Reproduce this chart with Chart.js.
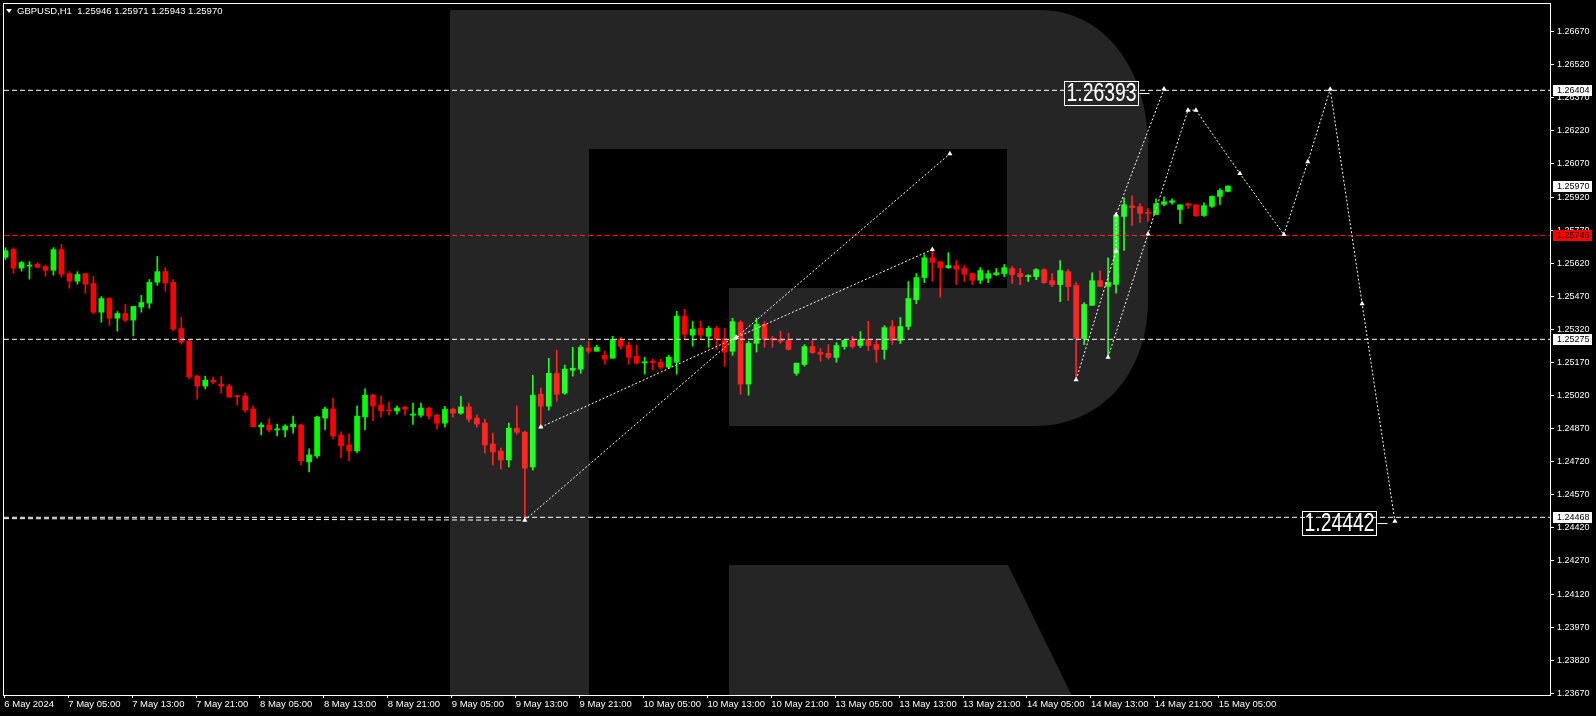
<!DOCTYPE html>
<html>
<head>
<meta charset="utf-8">
<title>GBPUSD,H1</title>
<script src="https://cdn.jsdelivr.net/npm/chart.js@4.4.1/dist/chart.umd.min.js"></script>
<style>
  html, body { margin: 0; padding: 0; background: #000; }
  canvas { display: block; }
</style>
</head>
<body>
<canvas id="chart" width="1596" height="716"></canvas>
<script>
'use strict';

// hourly bars, index 0 = 6 May 2024 21:00
var opens = [
	1.25647, 1.25682, 1.25598, 1.25607, 1.25616, 1.25605, 1.25588, 1.25682, 1.25573, 1.25539,
	1.25573, 1.25528, 1.25398, 1.25460, 1.25371, 1.25392, 1.25362, 1.25421, 1.25439, 1.25534,
	1.25582, 1.25533, 1.25324, 1.25267, 1.25108, 1.25063, 1.25090, 1.25072, 1.25063, 1.25019,
	1.25018, 1.24959, 1.24878, 1.24887, 1.24864, 1.24864, 1.24878, 1.24887, 1.24719, 1.24746,
	1.24918, 1.24959, 1.24841, 1.24796, 1.24769, 1.24923, 1.25022, 1.24977, 1.24955, 1.24950,
	1.24968, 1.24931, 1.24931, 1.24963, 1.24931, 1.24895, 1.24958, 1.24940, 1.24968, 1.24918,
	1.24895, 1.24800, 1.24768, 1.24728, 1.24872, 1.24854, 1.24696, 1.25026, 1.24972, 1.25121,
	1.25031, 1.25135, 1.25140, 1.25235, 1.25221, 1.25203, 1.25189, 1.25275, 1.25248, 1.25198,
	1.25168, 1.25176, 1.25171, 1.25149, 1.25171, 1.25380, 1.25294, 1.25325, 1.25289, 1.25325,
	1.25278, 1.25221, 1.25352, 1.25072, 1.25257, 1.25343, 1.25280, 1.25275, 1.25271, 1.25121,
	1.25161, 1.25242, 1.25215, 1.25211, 1.25193, 1.25242, 1.25270, 1.25247, 1.25274, 1.25251,
	1.25229, 1.25333, 1.25270, 1.25333, 1.25455, 1.25555, 1.25645, 1.25627, 1.25600, 1.25609,
	1.25596, 1.25573, 1.25543, 1.25552, 1.25568, 1.25573, 1.25596, 1.25573, 1.25559, 1.25559,
	1.25591, 1.25541, 1.25523, 1.25582, 1.25519, 1.25279, 1.25429, 1.25541, 1.25515, 1.25524,
	1.25832, 1.25880, 1.25876, 1.25850, 1.25841, 1.25887, 1.25896, 1.25864, 1.25890, 1.25885,
	1.25837, 1.25878, 1.25923, 1.25946
];
var highs = [
	1.25690, 1.25690, 1.25628, 1.25628, 1.25622, 1.25610, 1.25691, 1.25705, 1.25582, 1.25582,
	1.25573, 1.25560, 1.25469, 1.25465, 1.25401, 1.25433, 1.25424, 1.25474, 1.25546, 1.25650,
	1.25600, 1.25546, 1.25374, 1.25272, 1.25113, 1.25108, 1.25104, 1.25108, 1.25072, 1.25022,
	1.25031, 1.24973, 1.24896, 1.24914, 1.24891, 1.24887, 1.24927, 1.24891, 1.24778, 1.24927,
	1.24968, 1.25009, 1.24855, 1.24846, 1.24973, 1.25050, 1.25027, 1.25018, 1.24991, 1.24973,
	1.24971, 1.24986, 1.24986, 1.24968, 1.24936, 1.24971, 1.24963, 1.25017, 1.24986, 1.24931,
	1.24913, 1.24850, 1.24782, 1.24895, 1.24972, 1.24859, 1.25112, 1.25054, 1.25189, 1.25226,
	1.25158, 1.25239, 1.25248, 1.25266, 1.25248, 1.25221, 1.25289, 1.25284, 1.25262, 1.25248,
	1.25194, 1.25185, 1.25185, 1.25203, 1.25402, 1.25411, 1.25357, 1.25357, 1.25334, 1.25334,
	1.25325, 1.25371, 1.25360, 1.25266, 1.25371, 1.25357, 1.25289, 1.25312, 1.25303, 1.25167,
	1.25251, 1.25270, 1.25233, 1.25251, 1.25260, 1.25274, 1.25288, 1.25310, 1.25356, 1.25274,
	1.25337, 1.25360, 1.25374, 1.25537, 1.25573, 1.25659, 1.25688, 1.25627, 1.25668, 1.25632,
	1.25609, 1.25573, 1.25600, 1.25587, 1.25596, 1.25614, 1.25605, 1.25596, 1.25568, 1.25596,
	1.25596, 1.25573, 1.25632, 1.25591, 1.25532, 1.25442, 1.25577, 1.25586, 1.25645, 1.25844,
	1.25917, 1.25926, 1.25890, 1.25868, 1.25912, 1.25921, 1.25912, 1.25885, 1.25894, 1.25885,
	1.25894, 1.25926, 1.25958, 1.25971
];
var lows = [
	1.25637, 1.25575, 1.25584, 1.25548, 1.25598, 1.25561, 1.25566, 1.25557, 1.25507, 1.25525,
	1.25484, 1.25389, 1.25353, 1.25339, 1.25312, 1.25353, 1.25290, 1.25398, 1.25416, 1.25520,
	1.25493, 1.25312, 1.25253, 1.25095, 1.25004, 1.25050, 1.25072, 1.25031, 1.25013, 1.24977,
	1.24945, 1.24878, 1.24841, 1.24855, 1.24837, 1.24832, 1.24850, 1.24706, 1.24674, 1.24737,
	1.24864, 1.24823, 1.24737, 1.24724, 1.24760, 1.24864, 1.24905, 1.24923, 1.24932, 1.24936,
	1.24931, 1.24889, 1.24922, 1.24913, 1.24868, 1.24877, 1.24922, 1.24936, 1.24900, 1.24877,
	1.24759, 1.24705, 1.24687, 1.24696, 1.24845, 1.24455, 1.24682, 1.24877, 1.24954, 1.24995,
	1.25026, 1.25108, 1.25121, 1.25212, 1.25221, 1.25162, 1.25189, 1.25230, 1.25162, 1.25162,
	1.25117, 1.25135, 1.25140, 1.25144, 1.25117, 1.25275, 1.25244, 1.25275, 1.25239, 1.25230,
	1.25153, 1.25203, 1.25026, 1.25022, 1.25217, 1.25239, 1.25239, 1.25257, 1.25226, 1.25112,
	1.25153, 1.25211, 1.25175, 1.25185, 1.25171, 1.25230, 1.25235, 1.25238, 1.25224, 1.25171,
	1.25185, 1.25251, 1.25256, 1.25319, 1.25437, 1.25532, 1.25538, 1.25466, 1.25596, 1.25523,
	1.25537, 1.25523, 1.25528, 1.25532, 1.25564, 1.25559, 1.25528, 1.25523, 1.25537, 1.25546,
	1.25528, 1.25514, 1.25446, 1.25451, 1.25088, 1.25251, 1.25429, 1.25515, 1.25198, 1.25484,
	1.25678, 1.25791, 1.25805, 1.25810, 1.25841, 1.25880, 1.25887, 1.25801, 1.25868, 1.25832,
	1.25832, 1.25873, 1.25887, 1.25943
];
var closes = [
	1.25677, 1.25598, 1.25623, 1.25611, 1.25602, 1.25588, 1.25682, 1.25570, 1.25539, 1.25569,
	1.25525, 1.25398, 1.25460, 1.25371, 1.25392, 1.25362, 1.25424, 1.25442, 1.25533, 1.25582,
	1.25530, 1.25321, 1.25262, 1.25104, 1.25063, 1.25090, 1.25081, 1.25063, 1.25013, 1.25015,
	1.24954, 1.24878, 1.24887, 1.24864, 1.24869, 1.24882, 1.24891, 1.24724, 1.24751, 1.24923,
	1.24959, 1.24837, 1.24792, 1.24769, 1.24927, 1.25022, 1.24973, 1.24950, 1.24950, 1.24964,
	1.24958, 1.24936, 1.24963, 1.24927, 1.24895, 1.24958, 1.24940, 1.24968, 1.24913, 1.24891,
	1.24796, 1.24764, 1.24728, 1.24872, 1.24854, 1.24691, 1.25022, 1.24972, 1.25121, 1.25026,
	1.25140, 1.25144, 1.25239, 1.25221, 1.25239, 1.25185, 1.25275, 1.25244, 1.25194, 1.25167,
	1.25173, 1.25170, 1.25149, 1.25194, 1.25380, 1.25298, 1.25321, 1.25294, 1.25325, 1.25275,
	1.25217, 1.25355, 1.25072, 1.25257, 1.25343, 1.25275, 1.25272, 1.25266, 1.25230, 1.25167,
	1.25242, 1.25215, 1.25208, 1.25193, 1.25247, 1.25270, 1.25242, 1.25274, 1.25247, 1.25229,
	1.25328, 1.25270, 1.25333, 1.25460, 1.25555, 1.25645, 1.25624, 1.25600, 1.25609, 1.25593,
	1.25570, 1.25543, 1.25587, 1.25573, 1.25577, 1.25600, 1.25568, 1.25559, 1.25564, 1.25591,
	1.25532, 1.25523, 1.25587, 1.25514, 1.25279, 1.25433, 1.25541, 1.25515, 1.25533, 1.25835,
	1.25885, 1.25873, 1.25846, 1.25846, 1.25890, 1.25899, 1.25903, 1.25885, 1.25882, 1.25835,
	1.25881, 1.25923, 1.25950, 1.25970
];

// time axis: one label every 8 bars
var timeTicks = [0, 8, 16, 24, 32, 40, 48, 56, 64, 72, 80, 88, 96, 104, 112, 120, 128, 136, 144, 152];
var timeLabels = [
	'6 May 2024', '7 May 05:00', '7 May 13:00', '7 May 21:00', '8 May 05:00', '8 May 13:00',
	'8 May 21:00', '9 May 05:00', '9 May 13:00', '9 May 21:00', '10 May 05:00', '10 May 13:00',
	'10 May 21:00', '13 May 05:00', '13 May 13:00', '13 May 21:00', '14 May 05:00', '14 May 13:00',
	'14 May 21:00', '15 May 05:00'
];
var priceTicks = [
	1.23670, 1.23820, 1.23970, 1.24120, 1.24270, 1.24420, 1.24570, 1.24720, 1.24870, 1.25020,
	1.25170, 1.25320, 1.25470, 1.25620, 1.25770, 1.25920, 1.26070, 1.26220, 1.26370, 1.26520,
	1.26670
];

// horizontal levels
var levelPrices = [1.26404, 1.25746, 1.25275, 1.24468];
var levelColors = ['#ffffff', '#ff0000', '#ffffff', '#ffffff'];

// almost flat support line running into the 9 May low, [bar index, price]
var supportLine = [[-0.19, 1.24462], [65, 1.24455]];

// forecast paths, [bar index, price]
var forecastUp1 = [[65, 1.24455], [91.44, 1.25283], [118.2, 1.26116]];
var forecastUp2 = [[67, 1.24877], [91.44, 1.25283], [116, 1.25682]];
var forecastBreak = [[134, 1.25092], [139, 1.25675], [139, 1.25840], [145, 1.26410]];
var forecastMain = [
	[138, 1.25194], [143, 1.25753], [148, 1.26314], [149, 1.26314], [154.5, 1.26027],
	[160, 1.25750], [163, 1.26080], [165.8, 1.26409], [169.8, 1.25436], [173.9, 1.24450]
];

// target labels and the bar their box ends on
var targetPrices = [1.26393, 1.24442];
var targetBoxBar = [141.7, 171.55];

var FONT = '"Liberation Sans", Arial, sans-serif',
	BULL = '#00ff00',
	BEAR = '#ff0000',
	X_MIN = -0.1875,
	X_MAX = 193.3125,
	Y_MIN = 1.236623,
	Y_MAX = 1.267954;

Chart.defaults.font.family = FONT;

function candleColor(i) {
	return closes[i] >= opens[i] ? BULL : BEAR;
}

function toPoints(list) {
	return list.map(function (p) { return { x: p[0], y: p[1] }; });
}

function pathDataset(points) {
	return {
		type: 'line',
		data: toPoints(points),
		borderColor: '#ffffff',
		borderWidth: 1,
		borderDash: [2, 2],
		pointStyle: 'triangle',
		pointRadius: 3,
		pointBackgroundColor: '#ffffff',
		pointBorderWidth: 0,
		tension: 0
	};
}

var datasets = [
	pathDataset(forecastUp1),
	pathDataset(forecastUp2),
	pathDataset(forecastBreak),
	pathDataset(forecastMain)
];

levelPrices.forEach(function (p, k) {
	datasets.push({
		type: 'line',
		data: [{ x: X_MIN, y: p }, { x: X_MAX, y: p }],
		borderColor: levelColors[k],
		borderWidth: 1,
		borderDash: [5, 3],
		pointRadius: 0
	});
});

datasets.push({
	type: 'line',
	data: toPoints(supportLine),
	borderColor: '#ffffff',
	borderWidth: 1,
	borderDash: [5, 3],
	pointRadius: 0
});

// bodies then wicks (later datasets are painted first)
datasets.push({
	type: 'bar',
	data: opens.map(function (o, i) { return { x: i, y: [o, closes[i]] }; }),
	backgroundColor: opens.map(function (o, i) { return candleColor(i); }),
	barThickness: 5,
	minBarLength: 1,
	grouped: false,
	borderWidth: 0
});
datasets.push({
	type: 'bar',
	data: highs.map(function (h, i) { return { x: i, y: [lows[i], h] }; }),
	backgroundColor: highs.map(function (h, i) { return candleColor(i); }),
	barThickness: 1,
	minBarLength: 1,
	grouped: false,
	borderWidth: 0
});

// big faint "R" watermark, lightens whatever is under it
var logoPlugin = {
	id: 'logo',
	afterDatasetsDraw: function (chart) {
		var ctx = chart.ctx,
			a = chart.chartArea;
		ctx.save();
		ctx.beginPath();
		ctx.rect(a.left, a.top, a.right - a.left, a.bottom - a.top);
		ctx.clip();
		ctx.fillStyle = 'rgba(255,255,255,0.145)';
		ctx.beginPath();
		ctx.moveTo(450, 10);
		ctx.lineTo(1040, 10);
		ctx.bezierCurveTo(1105, 10, 1148, 70, 1148, 145);
		ctx.lineTo(1148, 300);
		ctx.bezierCurveTo(1148, 375, 1100, 426, 1035, 426);
		ctx.lineTo(729, 426);
		ctx.lineTo(729, 288);
		ctx.lineTo(1007, 288);
		ctx.lineTo(1007, 149);
		ctx.lineTo(589, 149);
		ctx.lineTo(589, 700);
		ctx.lineTo(450, 700);
		ctx.closePath();
		ctx.moveTo(729, 565);
		ctx.lineTo(1008, 565);
		ctx.lineTo(1074, 700);
		ctx.lineTo(729, 700);
		ctx.closePath();
		ctx.fill();
		ctx.restore();
	}
};

var overlayPlugin = {
	id: 'overlay',
	afterDraw: function (chart) {
		var ctx = chart.ctx,
			a = chart.chartArea,
			x = chart.scales.x,
			y = chart.scales.y,
			last = opens.length - 1;

		ctx.save();

		// frame
		ctx.strokeStyle = '#ffffff';
		ctx.lineWidth = 1;
		ctx.strokeRect(a.left - 0.5, a.top - 0.5, a.right - a.left + 1, a.bottom - a.top + 1);

		// target boxes
		targetPrices.forEach(function (p, k) {
			var right = Math.round(x.getPixelForValue(targetBoxBar[k])) + 0.5,
				cy = Math.round(y.getPixelForValue(p)),
				w = 74,
				h = 24,
				txt = p.toFixed(5),
				tw;
			ctx.strokeStyle = '#ffffff';
			ctx.strokeRect(right - w, cy - h / 2 + 0.5, w, h);
			ctx.beginPath();
			ctx.moveTo(right + 1, cy + 0.5);
			ctx.lineTo(right + 11, cy + 0.5);
			ctx.stroke();
			ctx.font = '25px ' + FONT;
			tw = ctx.measureText(txt).width;
			ctx.save();
			ctx.translate(right - w + 2, cy + 1);
			ctx.scale(70 / tw, 1);
			ctx.fillStyle = '#ffffff';
			ctx.textBaseline = 'middle';
			ctx.textAlign = 'left';
			ctx.fillText(txt, 0, 0);
			ctx.restore();
		});

		// price tags on the axis
		var tags = [
			[levelPrices[0], '#ffffff'],
			[closes[last], '#ffffff'],
			[levelPrices[1], '#ff0000'],
			[levelPrices[2], '#ffffff'],
			[levelPrices[3], '#ffffff']
		];
		ctx.font = '9px ' + FONT;
		ctx.textBaseline = 'middle';
		ctx.textAlign = 'left';
		tags.forEach(function (t) {
			var cy = Math.round(y.getPixelForValue(t[0]));
			ctx.fillStyle = t[1];
			ctx.fillRect(a.right + 3, cy - 5, 39, 11);
			ctx.fillStyle = '#000000';
			ctx.fillText(t[0].toFixed(5), a.right + 7, cy + 1);
		});

		// symbol line
		ctx.fillStyle = '#ffffff';
		ctx.beginPath();
		ctx.moveTo(6, 9);
		ctx.lineTo(12, 9);
		ctx.lineTo(9, 13);
		ctx.closePath();
		ctx.fill();
		ctx.font = '9.5px ' + FONT;
		ctx.textBaseline = 'alphabetic';
		ctx.fillText('GBPUSD,H1  ' + [opens[last], highs[last], lows[last], closes[last]]
			.map(function (v) { return v.toFixed(5); }).join(' '), 17, 14);

		ctx.restore();
	}
};

new Chart(document.getElementById('chart'), {
	type: 'bar',
	data: { datasets: datasets },
	plugins: [logoPlugin, overlayPlugin],
	options: {
		responsive: false,
		devicePixelRatio: 1,
		animation: false,
		layout: { padding: { left: 2, top: 3, right: 0, bottom: 0 } },
		plugins: {
			legend: { display: false },
			tooltip: { enabled: false }
		},
		scales: {
			x: {
				type: 'linear',
				min: X_MIN,
				max: X_MAX,
				offset: false,
				afterBuildTicks: function (s) {
					s.ticks = timeTicks.map(function (i) { return { value: i - 0.15 }; });
				},
				afterFit: function (s) {
					s.height = 21;
					s.paddingLeft = 0;
					s.paddingRight = 0;
				},
				grid: { drawOnChartArea: false, offset: false, tickLength: 3, color: '#ffffff' },
				border: { display: false },
				ticks: {
					color: '#ffffff',
					font: { size: 9.5 },
					padding: 1,
					align: 'start',
					maxRotation: 0,
					minRotation: 0,
					autoSkip: false,
					callback: function (v, idx) { return timeLabels[idx]; }
				}
			},
			y: {
				type: 'linear',
				position: 'right',
				min: Y_MIN,
				max: Y_MAX,
				afterBuildTicks: function (s) {
					s.ticks = priceTicks.map(function (v) { return { value: v }; });
				},
				afterFit: function (s) {
					s.width = 46;
					s.paddingTop = 0;
					s.paddingBottom = 0;
				},
				grid: { drawOnChartArea: false, tickLength: 4, color: '#ffffff' },
				border: { display: false },
				ticks: {
					color: '#ffffff',
					font: { size: 9 },
					padding: 3,
					autoSkip: false,
					callback: function (v) { return v.toFixed(5); }
				}
			}
		}
	}
});
</script>
</body>
</html>
